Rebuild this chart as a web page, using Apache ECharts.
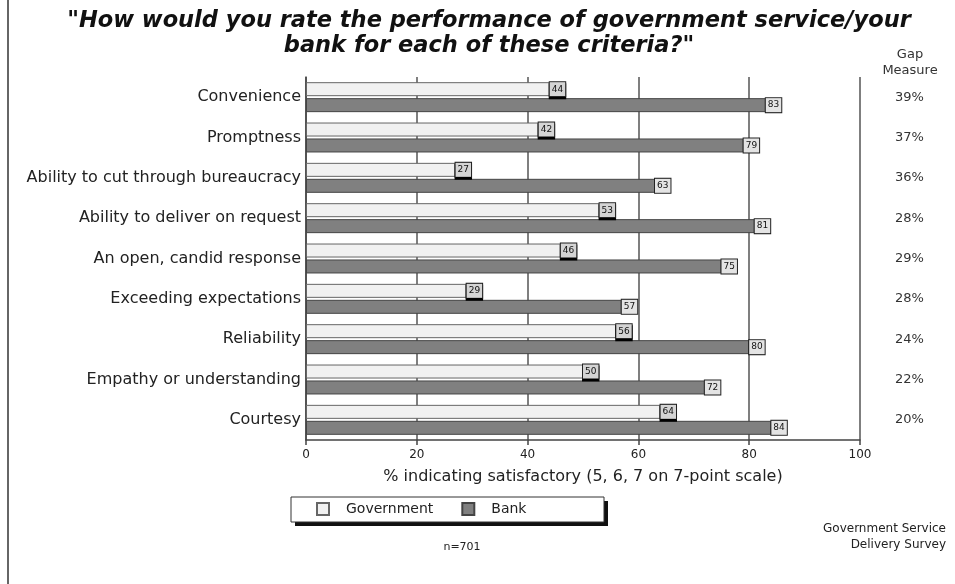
<!DOCTYPE html>
<html>
<head>
<meta charset="utf-8">
<script src="https://cdn.jsdelivr.net/npm/echarts@6/dist/echarts.min.js"></script>
<style>
  html, body { margin: 0; padding: 0; background: #fff; }
  #chart { width: 955px; height: 584px; }
</style>
</head>
<body>
<div id="chart"></div>
<script>
// Criteria, top to bottom
const criteria = [
  'Convenience',
  'Promptness',
  'Ability to cut through bureaucracy',
  'Ability to deliver on request',
  'An open, candid response',
  'Exceeding expectations',
  'Reliability',
  'Empathy or understanding',
  'Courtesy'
];
// % rating satisfactory
const government = [44, 42, 27, 53, 46, 29, 56, 50, 64];
const bank = [83, 79, 63, 81, 75, 57, 80, 72, 84];
// Gap measure column (%)
const gapMeasure = [39, 37, 36, 28, 29, 28, 24, 22, 20];
const xTicks = [0, 20, 40, 60, 80, 100];

const FONT = '"DejaVu Sans", Verdana, sans-serif';

const chart = echarts.init(document.getElementById('chart'));

const valueLabel = (bg, shadow) => ({
  show: true,
  position: 'right',
  distance: 0,
  fontFamily: FONT,
  fontSize: 9,
  color: '#111',
  backgroundColor: bg,
  borderColor: '#222',
  borderWidth: 1,
  padding: [3, 2, 2, 2],
  shadowColor: shadow ? '#000' : 'transparent',
  shadowOffsetY: shadow ? 2 : 0,
  shadowBlur: 0,
  formatter: (p) => String(p.value)
});

chart.setOption({
  backgroundColor: '#fff',
  animation: false,
  title: {
    text: '"How would you rate the performance of government service/your\nbank for each of these criteria?"',
    left: 484,
    top: 4,
    textAlign: 'center',
    textStyle: {
      fontFamily: FONT,
      fontSize: 22.5,
      fontWeight: 'bold',
      fontStyle: 'italic',
      color: '#111',
      lineHeight: 25
    }
  },
  legend: {
    left: 316,
    top: 502,
    orient: 'horizontal',
    data: ['Government', 'Bank'],
    icon: 'rect',
    itemWidth: 12,
    itemHeight: 12,
    itemGap: 28,
    padding: 0,
    textStyle: {
      fontFamily: FONT,
      fontSize: 14,
      color: '#222',
      padding: [0, 0, 0, 12]
    }
  },
  grid: {
    left: 306,
    right: 95,
    top: 77,
    bottom: 144,
    containLabel: false
  },
  xAxis: {
    type: 'value',
    min: 0,
    max: 100,
    interval: 20,
    name: '% indicating satisfactory (5, 6, 7 on 7-point scale)',
    nameLocation: 'middle',
    nameGap: 29,
    nameTextStyle: { fontFamily: FONT, fontSize: 16, color: '#222' },
    axisLine: { show: true, lineStyle: { color: '#444', width: 1.5 } },
    axisTick: { show: true, length: 5, lineStyle: { color: '#444', width: 1.5 } },
    axisLabel: {
      fontFamily: FONT, fontSize: 12, color: '#222', margin: 9,
      formatter: (v) => xTicks.includes(v) ? String(v) : ''
    },
    splitLine: { show: true, lineStyle: { color: '#555', width: 1.5 } }
  },
  yAxis: [
    {
      type: 'category',
      data: criteria,
      inverse: true,
      axisLine: { show: true, lineStyle: { color: '#444', width: 1.5 } },
      axisTick: { show: false },
      axisLabel: { fontFamily: FONT, fontSize: 16, color: '#222', margin: 5 }
    },
    {
      type: 'category',
      data: criteria,
      inverse: true,
      position: 'right',
      axisLine: { show: false },
      axisTick: { show: false },
      axisLabel: {
        fontFamily: FONT, fontSize: 13, color: '#333', margin: 35,
        formatter: (v, i) => gapMeasure[i] + '%'
      }
    }
  ],
  series: [
    {
      name: 'Government',
      type: 'bar',
      data: government,
      barWidth: 14,
      barGap: '14%',
      itemStyle: { color: '#f1f1f1', borderColor: '#666', borderWidth: 1 },
      label: valueLabel('#d4d4d4', true)
    },
    {
      name: 'Bank',
      type: 'bar',
      data: bank,
      barWidth: 14,
      itemStyle: { color: '#808080', borderColor: '#444', borderWidth: 1 },
      label: valueLabel('#e4e4e4', false)
    }
  ],
  graphic: [
    {
      type: 'line',
      shape: { x1: 8, y1: 0, x2: 8, y2: 584 },
      style: { stroke: '#333', lineWidth: 1.5 }
    },
    // legend frame with drop shadow
    {
      type: 'rect',
      z: -1,
      shape: { x: 295, y: 501, width: 313, height: 25 },
      style: { fill: '#111' }
    },
    {
      type: 'rect',
      z: -1,
      shape: { x: 291, y: 497, width: 313, height: 25 },
      style: { fill: '#fff', stroke: '#333', lineWidth: 1 }
    },
    {
      type: 'text',
      style: {
        x: 910, y: 47,
        text: 'Gap\nMeasure',
        fontFamily: FONT, fontSize: 13, fill: '#333', align: 'center', lineHeight: 16
      }
    },
    {
      type: 'text',
      style: {
        x: 462, y: 542,
        text: 'n=701', align: 'center',
        fontFamily: FONT, fontSize: 11, fill: '#222'
      }
    },
    {
      type: 'text',
      style: {
        x: 946, y: 521,
        text: 'Government Service\nDelivery Survey',
        fontFamily: FONT, fontSize: 12, fill: '#222', align: 'right', lineHeight: 16
      }
    }
  ]
});
</script>
</body>
</html>
